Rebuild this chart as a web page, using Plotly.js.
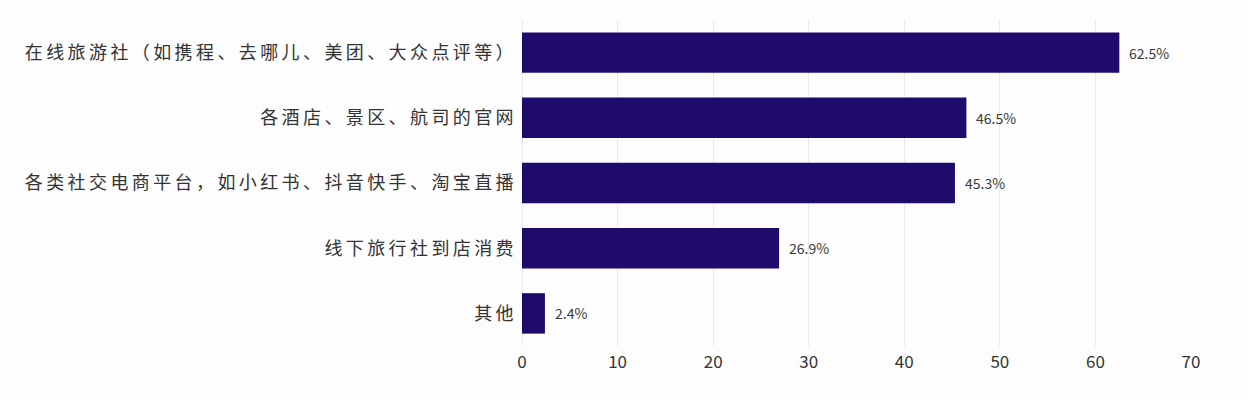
<!DOCTYPE html>
<html>
<head>
<meta charset="utf-8">
<script src="https://cdn.plot.ly/plotly-3.0.1.min.js"></script>
<style>
  html, body { margin: 0; padding: 0; background: #fdfdfe; }
  #chart { width: 1248px; height: 400px; }
  /* the category labels in the source are set with wide tracking */
  #chart .ytick text { letter-spacing: 3.4px; }
</style>
</head>
<body>
<div id="chart"></div>
<script>
var channels = [
  "在线旅游社（如携程、去哪儿、美团、大众点评等）",
  "各酒店、景区、航司的官网",
  "各类社交电商平台，如小红书、抖音快手、淘宝直播",
  "线下旅行社到店消费",
  "其他"
];
var shares = [62.5, 46.5, 45.3, 26.9, 2.4];
var shareLabels = shares.map(function (v) { return v.toFixed(1) + "%"; });
var xTicks = [0, 10, 20, 30, 40, 50, 60, 70];

var trace = {
  type: "bar",
  orientation: "h",
  x: shares,
  y: channels,
  marker: { color: "#1f0b6c" },
  hoverinfo: "x+y"
};

// value labels sit a little further off the bar end than plotly's own outside text
var labels = shares.map(function (v, i) {
  return {
    x: v,
    y: channels[i],
    xref: "x",
    yref: "y",
    text: shareLabels[i],
    showarrow: false,
    xanchor: "left",
    xshift: 8,
    font: { family: "Noto Sans CJK SC, sans-serif", size: 14, color: "#3a3a3a" }
  };
});

var layout = {
  width: 1248,
  height: 400,
  margin: { l: 522, r: 57, t: 20, b: 54 },
  paper_bgcolor: "#fdfdfe",
  plot_bgcolor: "#fdfdfe",
  bargap: 0.38,
  showlegend: false,
  annotations: labels,
  font: { family: "Noto Sans CJK SC, sans-serif", size: 15, color: "#333333" },
  xaxis: {
    range: [0, 70],
    tickvals: xTicks,
    ticktext: xTicks.map(String),
    showgrid: true,
    gridcolor: "#e8e9ef",
    zeroline: true,
    zerolinecolor: "#e8e9ef",
    showline: false,
    ticks: "",
    ticklabelstandoff: 4,
    tickfont: { size: 17, color: "#333333" },
    fixedrange: true
  },
  yaxis: {
    autorange: "reversed",
    showgrid: false,
    ticks: "",
    ticklabelstandoff: 4,
    tickfont: { size: 18, color: "#333333" },
    fixedrange: true
  }
};

Plotly.newPlot("chart", [trace], layout, { displayModeBar: false, staticPlot: true });
</script>
</body>
</html>
